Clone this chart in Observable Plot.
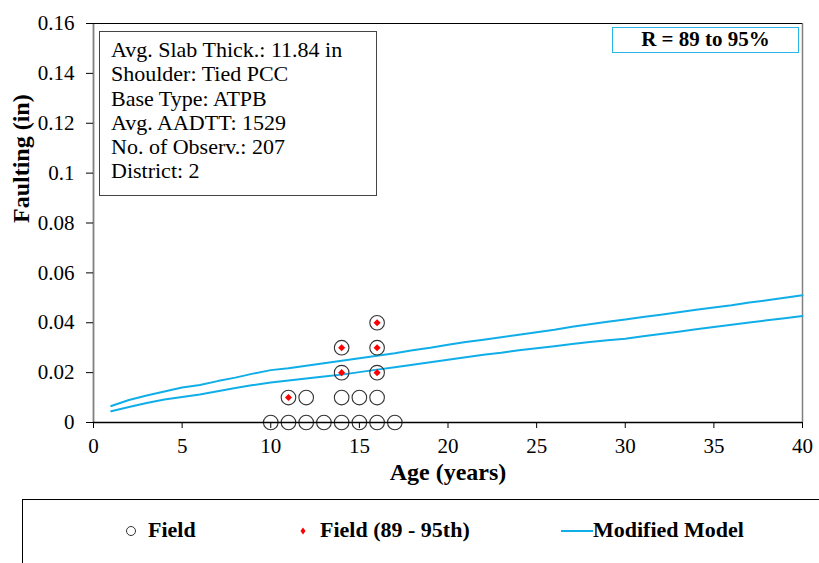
<!DOCTYPE html>
<html>
<head>
<meta charset="utf-8">
<script src="https://cdn.jsdelivr.net/npm/d3@7"></script>
<script src="https://cdn.jsdelivr.net/npm/@observablehq/plot@0.6"></script>
<style>
  html, body { margin: 0; padding: 0; background: #fff; }
  #wrap { position: relative; width: 819px; height: 563px; overflow: hidden; font-family: 'Liberation Serif', 'DejaVu Serif', serif; color: #000; }
  #wrap svg text { font-family: 'Liberation Serif', 'DejaVu Serif', serif !important; }
  #info { position: absolute; left: 99px; top: 31px; width: 278px; height: 165px; border: 1.5px solid #444; box-sizing: border-box; font-size: 22px; line-height: 24.3px; padding: 6px 0 0 11px; }
  #rbox { position: absolute; left: 612px; top: 27px; width: 187px; height: 26px; border: 1.5px solid #29b6e8; box-sizing: border-box; font-size: 21px; font-weight: bold; text-align: center; line-height: 23px; }
  #legend { position: absolute; left: 22px; top: 499px; width: 820px; height: 80px; border-top: 1.5px solid #000; border-left: 1.5px solid #000; }
  .li { position: absolute; top: 17px; font-size: 22px; font-weight: bold; white-space: nowrap; line-height: 26px; }
</style>
</head>
<body>
<div id="wrap"></div>
<script>
// ---- Data ----
const xTicks = [0, 5, 10, 15, 20, 25, 30, 35, 40];
const yTicks = [0, 0.02, 0.04, 0.06, 0.08, 0.1, 0.12, 0.14, 0.16];
const yTickLabels = ["0", "0.02", "0.04", "0.06", "0.08", "0.1", "0.12", "0.14", "0.16"];

// Field observations (age, faulting)
const fieldAge    = [10, 11, 12, 13, 14, 15, 16, 17, 11, 12, 14, 15, 16, 14, 16, 14, 16, 16];
const fieldFault  = [0, 0, 0, 0, 0, 0, 0, 0, 0.01, 0.01, 0.01, 0.01, 0.01, 0.02, 0.02, 0.03, 0.03, 0.04];

// Field 89 - 95th percentile
const pctAge   = [11, 14, 14, 16, 16, 16];
const pctFault = [0.01, 0.02, 0.03, 0.02, 0.03, 0.04];

// Modified model (two curves)
const modelAge = [1,2,3,4,5,6,7,8,9,10,11,12,13,14,15,16,17,18,19,20,21,22,23,24,25,26,27,28,29,30,31,32,33,34,35,36,37,38,39,40];
const modelUpper = [0.0066,0.0090,0.0108,0.0124,0.0140,0.0150,0.0166,0.0180,0.0196,0.0210,
                    0.0218,0.0228,0.0238,0.0248,0.0258,0.0268,0.0278,0.0290,0.0300,0.0312,
                    0.0323,0.0332,0.0342,0.0352,0.0362,0.0372,0.0384,0.0394,0.0404,0.0413,
                    0.0423,0.0432,0.0442,0.0452,0.0461,0.0470,0.0481,0.0490,0.0500,0.0510];
const modelLower = [0.0045,0.0062,0.0078,0.0092,0.0102,0.0112,0.0125,0.0138,0.0150,0.0160,
                    0.0168,0.0176,0.0184,0.0192,0.0202,0.0212,0.0222,0.0232,0.0242,0.0252,
                    0.0262,0.0272,0.0280,0.0290,0.0298,0.0306,0.0315,0.0323,0.0330,0.0336,
                    0.0346,0.0355,0.0364,0.0374,0.0383,0.0392,0.0401,0.0410,0.0418,0.0427];

const infoLines = ["Avg. Slab Thick.: 11.84 in", "Shoulder: Tied PCC", "Base Type: ATPB", "Avg. AADTT: 1529", "No. of Observ.: 207", "District: 2"];
const rangeLabel = "R = 89 to 95%";
const legendLabels = ["Field", "Field (89 - 95th)", "Modified Model"];
const xLabel = "Age (years)";
const yLabel = "Faulting (in)";

// ---- Tables ----
const field = fieldAge.map((a, i) => ({age: a, f: fieldFault[i]}));
const pct = pctAge.map((a, i) => ({age: a, f: pctFault[i]}));
const upper = modelAge.map((a, i) => ({age: a, f: modelUpper[i]}));
const lower = modelAge.map((a, i) => ({age: a, f: modelLower[i]}));

const lineColor = "#10aee8";
const serif = "'Liberation Serif', 'DejaVu Serif', serif";

const chart = Plot.plot({
  width: 819,
  height: 498,
  marginTop: 23,
  marginLeft: 93,
  marginRight: 17,
  marginBottom: 76,
  style: {fontFamily: serif, fontSize: "21px", background: "transparent", overflow: "visible", color: "#000"},
  x: {domain: [0, 40]},
  y: {domain: [0, 0.16]},
  marks: [
    Plot.ruleX([0], {stroke: "#808080", strokeWidth: 1.8}),
    Plot.ruleX([40], {stroke: "#808080", strokeWidth: 1.5}),
    Plot.ruleY([0.16], {stroke: "#000", strokeWidth: 1.2}),
    Plot.axisX({ticks: xTicks, tickSize: 6, tickPadding: 10, label: null, fontSize: 21, fontFamily: serif, tickFormat: d => String(d)}),
    Plot.axisY({ticks: yTicks, tickSize: 7, tickPadding: 12, label: null, fontSize: 21, fontFamily: serif, tickFormat: (d, i) => yTickLabels[i]}),
    Plot.line(upper, {x: "age", y: "f", stroke: lineColor, strokeWidth: 2}),
    Plot.line(lower, {x: "age", y: "f", stroke: lineColor, strokeWidth: 2}),
    Plot.dot(field, {x: "age", y: "f", r: 7.3, stroke: "#333", strokeWidth: 1.1, fill: "none"}),
    Plot.dot(pct, {x: "age", y: "f", symbol: "diamond2", r: 3.2, fill: "#ff0000", stroke: "none"}),
    Plot.ruleY([0], {x1: 0, x2: 40, stroke: "#000", strokeWidth: 1.3}),
    Plot.text([xLabel], {frameAnchor: "bottom", dy: 57, fontSize: 24, fontWeight: "bold", fontFamily: serif}),
    Plot.text([yLabel], {frameAnchor: "left", dx: -72, rotate: -90, fontSize: 24, fontWeight: "bold", fontFamily: serif})
  ]
});

const wrap = document.getElementById("wrap");
chart.style.position = "absolute";
chart.style.left = "0px";
chart.style.top = "0px";
wrap.appendChild(chart);

const info = document.createElement("div");
info.id = "info";
info.innerHTML = infoLines.map(t => `<div>${t}</div>`).join("");
wrap.appendChild(info);

const rbox = document.createElement("div");
rbox.id = "rbox";
rbox.textContent = rangeLabel;
wrap.appendChild(rbox);

// Legend
const legend = document.createElement("div");
legend.id = "legend";
legend.innerHTML = `
  <svg width="820" height="80" style="position:absolute;left:0;top:0">
    <circle cx="108" cy="31" r="4.5" fill="none" stroke="#333" stroke-width="1"/>
    <path d="M280,27.5 L282.5,31 L280,34.5 L277.5,31 Z" fill="#ff0000"/>
    <line x1="538" y1="31" x2="570" y2="31" stroke="${lineColor}" stroke-width="2"/>
  </svg>
  <div class="li" style="left:125px">${legendLabels[0]}</div>
  <div class="li" style="left:297px">${legendLabels[1]}</div>
  <div class="li" style="left:570px">${legendLabels[2]}</div>`;
wrap.appendChild(legend);
</script>
</body>
</html>
